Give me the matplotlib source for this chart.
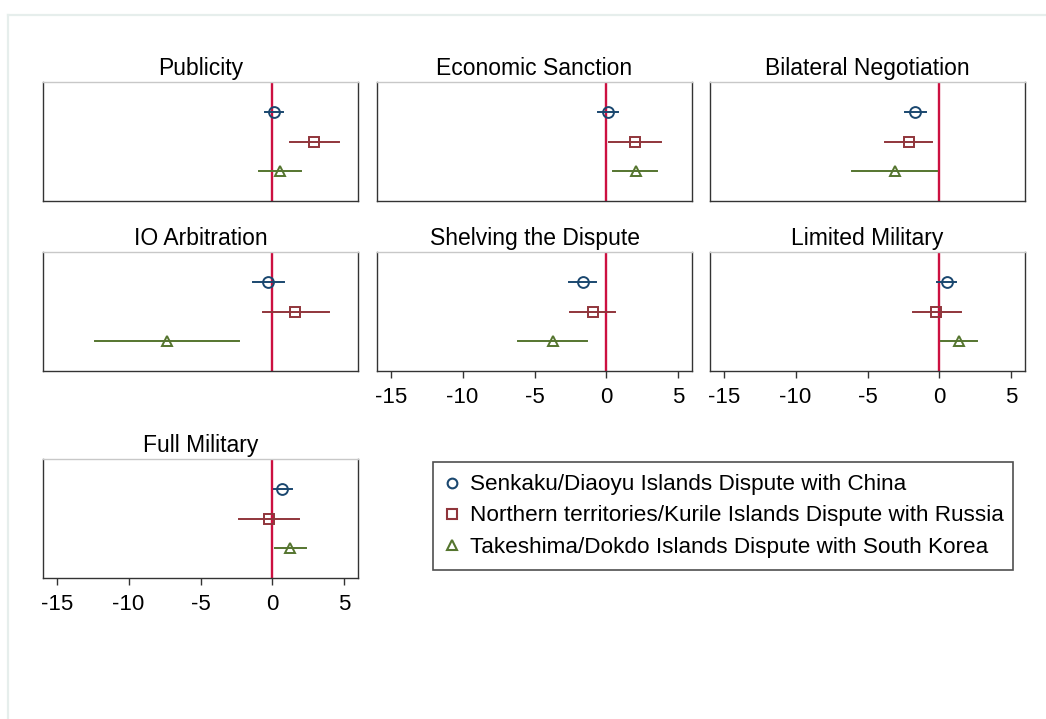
import matplotlib
matplotlib.use("Agg")
import matplotlib.pyplot as plt
from matplotlib.lines import Line2D

plt.rcParams['font.family'] = ['Liberation Sans', 'DejaVu Sans']

# panel titles, in drawing order
paneles = ["Publicity", "Economic Sanction", "Bilateral Negotiation",
           "IO Arbitration", "Shelving the Dispute", "Limited Military",
           "Full Military"]

series = ["Senkaku/Diaoyu Islands Dispute with China",
          "Northern territories/Kurile Islands Dispute with Russia",
          "Takeshima/Dokdo Islands Dispute with South Korea"]

# point estimates per panel: [China, Russia, Korea]
coef = [[0.10, 2.89, 0.56],
        [0.12, 1.99, 2.04],
        [-1.67, -2.13, -3.10],
        [-0.28, 1.60, -7.36],
        [-1.64, -0.93, -3.73],
        [0.51, -0.21, 1.39],
        [0.67, -0.23, 1.25]]

# confidence interval bounds
ci_lo = [[-0.53, 1.20, -0.93],
         [-0.56, 0.19, 0.49],
         [-2.36, -3.75, -6.06],
         [-1.34, -0.65, -12.34],
         [-2.57, -2.50, -6.13],
         [-0.16, -1.85, 0.14],
         [0.09, -2.31, 0.16]]
ci_hi = [[0.74, 4.63, 2.01],
         [0.83, 3.80, 3.54],
         [-0.93, -0.51, -0.16],
         [0.81, 3.91, -2.34],
         [-0.72, 0.63, -1.37],
         [1.16, 1.48, 2.62],
         [1.37, 1.85, 2.36]]

xticks = [-15, -10, -5, 0, 5]

colores = ["#1a476f", "#90353b", "#55752f"]
marcadores = ["o", "s", "^"]
rojo = "#cc1040"

W, H = 1046, 719
fig = plt.figure(figsize=(W / 100, H / 100), dpi=100)

# outer light frame (Stata graph region)
fig.add_artist(Line2D([8 / W, 1], [1 - 15 / H, 1 - 15 / H], color="#e6eeec", lw=1.6))
fig.add_artist(Line2D([8 / W, 8 / W], [0, 1 - 15 / H], color="#e6eeec", lw=1.6))

col_left = [43, 377, 710]
row_top = [82, 252, 459]
ancho, alto = 315, 119

con_ticks = [4, 5, 6]

for i, nombre in enumerate(paneles):
    r, c = divmod(i, 3)
    ax = fig.add_axes([col_left[c] / W, 1 - (row_top[r] + alto) / H, ancho / W, alto / H])
    ax.axvline(0, color=rojo, lw=1.7, zorder=1)
    for j in range(3):
        y = j + 1
        ax.plot([ci_lo[i][j], ci_hi[i][j]], [y, y], color=colores[j], lw=1.4, zorder=2)
        ax.plot(coef[i][j], y, marker=marcadores[j], ms=7.8 if j != 1 else 7.3,
                mfc="none", mec=colores[j], mew=1.4, ls="none", zorder=3)
    ax.set_xlim(-15.95, 5.95)
    ax.set_ylim(4, 0)
    ax.set_yticks([])
    ax.set_title(nombre, fontsize=16.5, pad=5)
    for lado in ["left", "bottom", "right"]:
        ax.spines[lado].set_color("#333333")
        ax.spines[lado].set_linewidth(1.0)
    ax.spines["top"].set_color("#c8c8c8")
    ax.spines["top"].set_linewidth(1.0)
    ax.set_xticks(xticks)
    if i in con_ticks:
        ax.set_xticklabels([str(t) for t in xticks], fontsize=16)
        ax.tick_params(axis="x", direction="out", length=5, width=1.0, color="#333333", pad=6.5)
    else:
        ax.tick_params(axis="x", length=0, labelbottom=False)

# legend box
handles = [Line2D([], [], marker=marcadores[j], mfc="none", mec=colores[j], mew=1.5,
                  ms=7, ls="none") for j in range(3)]
leg = fig.legend(handles, series, loc="upper left",
                 bbox_to_anchor=(433 / W, 1 - 571 / H, 580 / W, 109 / H),
                 mode="expand", fontsize=16.2, frameon=True, fancybox=False,
                 handlelength=0.6, handletextpad=0.5, borderpad=0.55,
                 labelspacing=0.45, borderaxespad=0)
leg.get_frame().set_edgecolor("#222222")
leg.get_frame().set_linewidth(1.2)

fig.savefig("out.png", dpi=100, facecolor="white")
